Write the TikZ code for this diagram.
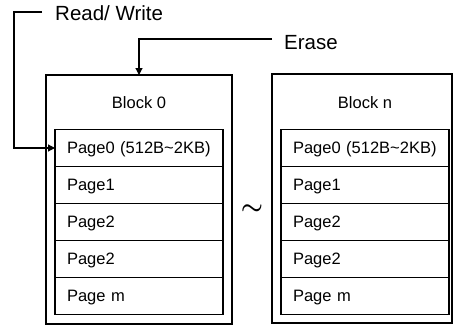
\documentclass[tikz,border=0pt]{standalone}
\usepackage{fontspec}
\setmainfont{Liberation Sans}
\usepackage{tikz}
\usetikzlibrary{positioning,arrows.meta}
\tikzset{
  blk/.style={rectangle, draw=black, line width=1.2pt, minimum width=186pt, minimum height=249pt, anchor=north west, outer sep=0pt},
  pg/.style={rectangle, draw=black, line width=1.2pt, minimum height=37pt, text width=144pt, inner xsep=12pt, align=left, text height=11.5pt, text depth=0pt, font=\fontsize{16.5}{18}\selectfont, outer sep=0pt},
  blbl/.style={font=\fontsize{16.5}{18}\selectfont, inner sep=0pt},
  tlbl/.style={font=\fontsize{20.5}{22}\selectfont, inner sep=0pt, anchor=base west},
  arr/.style={draw=black, line width=1.2pt, -{Triangle[length=7pt,width=7pt]}},
  memmap/.style={x=1pt, y=-1pt}
}
\begin{document}
\begin{tikzpicture}[memmap]
    \useasboundingbox (0,0) rectangle (453,327);
    \node[blk] (b0) at (46,75) {};
    \node[blk, minimum width=180pt] (bn) at (272,74) {};
    \node[blbl] (b0t) at (139,103) {Block 0};
    \node[blbl] (bnt) at (365,103) {Block n};
    \node[pg, anchor=north west] (b0p0) at (55,129.5) {Page0 (512B\textasciitilde 2KB)};
    \node[pg, below=0pt of b0p0] (b0p1) {Page1};
    \node[pg, below=0pt of b0p1] (b0p2) {Page2};
    \node[pg, below=0pt of b0p2] (b0p3) {Page2};
    \node[pg, below=0pt of b0p3] (b0pm) {Page m};
    \node[pg, anchor=north west] (bnp0) at (281,129.5) {Page0 (512B\textasciitilde 2KB)};
    \node[pg, below=0pt of bnp0] (bnp1) {Page1};
    \node[pg, below=0pt of bnp1] (bnp2) {Page2};
    \node[pg, below=0pt of bnp2] (bnp3) {Page2};
    \node[pg, below=0pt of bnp3] (bnpm) {Page m};
    \node[font=\fontsize{31}{33}\selectfont\boldmath, inner sep=0pt] (gap) at (252,210) {$\sim$};
    \node[tlbl] (rw) at (55,20) {Read/ Write};
    \node[tlbl] (er) at (284,49) {Erase};
    \coordinate (rwa) at (42,12);
    \coordinate (rwb) at (14,12);
    \coordinate (era) at (272,39);
    \draw[arr] (rwa) -- (rwb) |- (b0p0.west);
    \draw[arr] (era) -| (b0.north);
  \end{tikzpicture}
\end{document}
